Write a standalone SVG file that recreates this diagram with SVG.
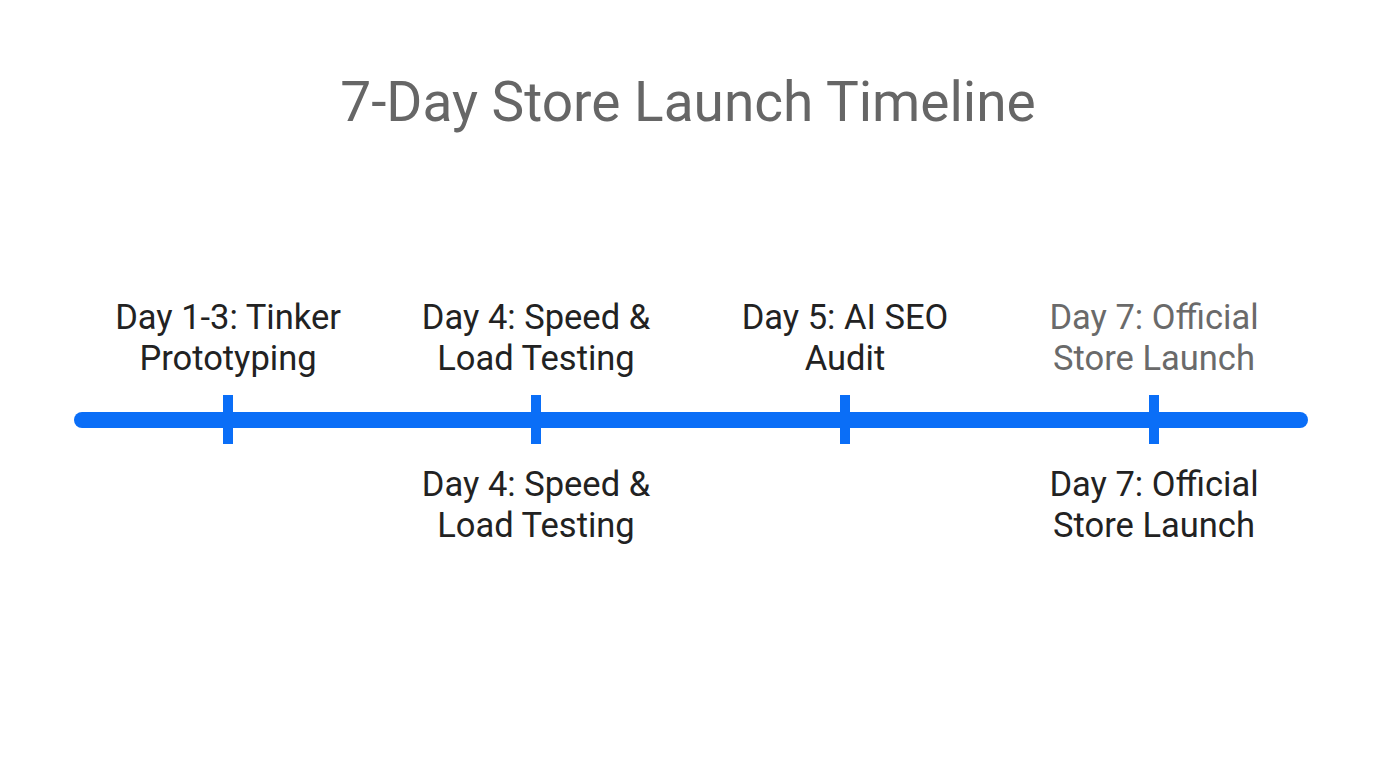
<svg xmlns="http://www.w3.org/2000/svg" width="1376" height="768" viewBox="0 0 1376 768">
<style>
.t{font-family:Roboto,"Liberation Sans",sans-serif;font-size:34.5px;fill:#222;text-anchor:middle}
.g{fill:#6a6a6a}
.title{font-family:Roboto,"Liberation Sans",sans-serif;font-size:55px;fill:#666;text-anchor:middle}
.tick{stroke:#0A6EF7;stroke-width:10}
</style>
<rect width="1376" height="768" fill="#fff"/>
<text class="title" x="688" y="121">7-Day Store Launch Timeline</text>
<g id="connectors">
<line x1="82" y1="420" x2="1300" y2="420" stroke="#0A6EF7" stroke-width="16" stroke-linecap="round"/>
</g>
<g id="n1"><line class="tick" x1="228" y1="395" x2="228" y2="444"/><text class="t" x="228" y="329">Day 1-3: Tinker</text><text class="t" x="228" y="370">Prototyping</text></g>
<g id="n2"><line class="tick" x1="536" y1="395" x2="536" y2="444"/><text class="t" x="536" y="329">Day 4: Speed &amp;</text><text class="t" x="536" y="370">Load Testing</text><text class="t" x="536" y="496">Day 4: Speed &amp;</text><text class="t" x="536" y="537">Load Testing</text></g>
<g id="n3"><line class="tick" x1="845" y1="395" x2="845" y2="444"/><text class="t" x="845" y="329">Day 5: AI SEO</text><text class="t" x="845" y="370">Audit</text></g>
<g id="n4"><line class="tick" x1="1154" y1="395" x2="1154" y2="444"/><text class="t g" x="1154" y="329">Day 7: Official</text><text class="t g" x="1154" y="370">Store Launch</text><text class="t" x="1154" y="496">Day 7: Official</text><text class="t" x="1154" y="537">Store Launch</text></g>
</svg>
